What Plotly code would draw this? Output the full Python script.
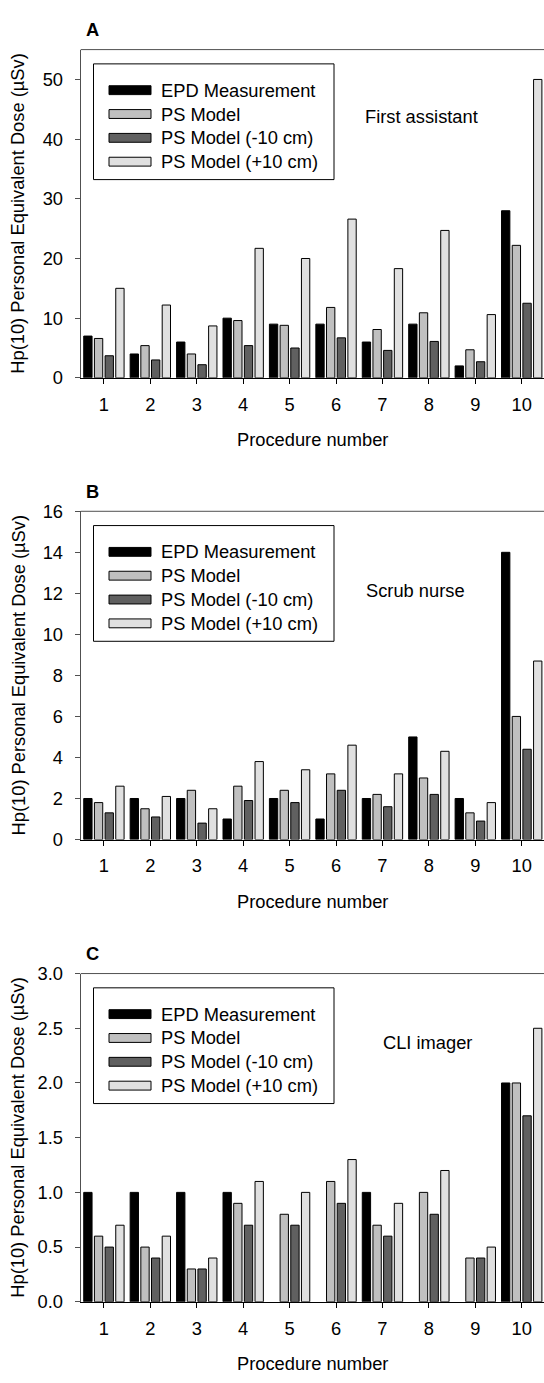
import plotly.graph_objects as go

# ---------------- data ----------------
procedures = [1, 2, 3, 4, 5, 6, 7, 8, 9, 10]
tick_labels = ["1", "2", "3", "4", "5", "6", "7", "8", "9", "10"]
series_names = ["EPD Measurement", "PS Model", "PS Model (-10 cm)", "PS Model (+10 cm)"]

A_epd = [7, 4, 6, 10, 9, 9, 6, 9, 2, 28]
A_ps = [6.6, 5.4, 4.0, 9.6, 8.8, 11.8, 8.1, 10.9, 4.7, 22.2]
A_minus = [3.7, 3.0, 2.2, 5.4, 5.0, 6.7, 4.6, 6.1, 2.7, 12.5]
A_plus = [15.0, 12.2, 8.7, 21.7, 20.0, 26.6, 18.3, 24.7, 10.6, 50.0]

B_epd = [2, 2, 2, 1, 2, 1, 2, 5, 2, 14]
B_ps = [1.8, 1.5, 2.4, 2.6, 2.4, 3.2, 2.2, 3.0, 1.3, 6.0]
B_minus = [1.3, 1.1, 0.8, 1.9, 1.8, 2.4, 1.6, 2.2, 0.9, 4.4]
B_plus = [2.6, 2.1, 1.5, 3.8, 3.4, 4.6, 3.2, 4.3, 1.8, 8.7]

C_epd = [1, 1, 1, 1, None, None, 1, None, None, 2]
C_ps = [0.6, 0.5, 0.3, 0.9, 0.8, 1.1, 0.7, 1.0, 0.4, 2.0]
C_minus = [0.5, 0.4, 0.3, 0.7, 0.7, 0.9, 0.6, 0.8, 0.4, 1.7]
C_plus = [0.7, 0.6, 0.4, 1.1, 1.0, 1.3, 0.9, 1.2, 0.5, 2.5]

panel_letters = ["A", "B", "C"]
panel_titles = ["First assistant", "Scrub nurse", "CLI imager"]
y_ranges = [[0, 55], [0, 16], [0, 3.0]]
y_dticks = [10, 2, 0.5]
y_formats = ["d", "d", ".1f"]
y_title = "Hp(10) Personal Equivalent Dose (µSv)"
x_title = "Procedure number"

# ---------------- styles ----------------
W, H = 544, 1383
FONT = "Arial, 'Liberation Sans', sans-serif"
FS = 18.3
colors = ["#000000", "#c0c0c0", "#606060", "#e0e0e0"]
frame_col = "#505050"


def px(x):
    return x / W


def py(y):
    return 1 - y / H


left_px = 80.7
bottoms = [372.5, 841.3, 1310.7]
plot_h = 333.3
tops = [b - plot_h for b in bottoms]

panels = [
    [A_epd, A_ps, A_minus, A_plus],
    [B_epd, B_ps, B_minus, B_plus],
    [C_epd, C_ps, C_minus, C_plus],
]

fig = go.Figure()
layout = dict(
    width=W, height=H,
    margin=dict(l=0, r=0, t=0, b=0),
    paper_bgcolor="white", plot_bgcolor="white",
    font=dict(family=FONT, size=FS, color="black"),
    showlegend=False,
    barmode="group", bargap=0.08, bargroupgap=0.22,
)

shapes = []
annotations = []

for i, data in enumerate(panels):
    sfx = "" if i == 0 else str(i + 1)
    for j, vals in enumerate(data):
        fig.add_trace(go.Bar(
            x=procedures, y=vals, name=series_names[j],
            marker=dict(color=colors[j], line=dict(color="black", width=1)),
            xaxis="x" + sfx, yaxis="y" + sfx,
            offsetgroup=str(j), showlegend=False,
        ))
    layout["xaxis" + sfx] = dict(
        domain=[px(left_px), 1], anchor="y" + sfx,
        range=[0.5, 10.48], tickmode="array", tickvals=procedures, ticktext=tick_labels,
        showline=True, linecolor="black", linewidth=1, mirror=False,
        ticks="outside", ticklen=5, tickcolor="black", ticklabelstandoff=5,
        showgrid=False, zeroline=False, fixedrange=True,
        tickfont=dict(size=FS),
    )
    layout["yaxis" + sfx] = dict(
        domain=[py(bottoms[i]), py(tops[i])], anchor="x" + sfx,
        range=y_ranges[i], dtick=y_dticks[i], tick0=0, tickformat=y_formats[i],
        showline=True, linecolor=frame_col, linewidth=1, mirror=False,
        ticks="outside", ticklen=5, tickcolor=frame_col, ticklabelstandoff=8,
        showgrid=False, zeroline=False, fixedrange=True,
        tickfont=dict(size=FS),
    )
    # top frame line
    shapes.append(dict(type="line", xref="paper", yref="paper",
                       x0=px(left_px), x1=1, y0=py(tops[i]), y1=py(tops[i]),
                       line=dict(color=frame_col, width=1)))
    # panel letter
    annotations.append(dict(text="<b>" + panel_letters[i] + "</b>", xref="paper", yref="paper",
                            x=px(83.5), y=py(tops[i] - 20.5), xanchor="left", yanchor="middle",
                            showarrow=False, font=dict(size=FS)))
    # y title
    annotations.append(dict(text=y_title, xref="paper", yref="paper", textangle=-90,
                            x=px(18), y=py((tops[i] + bottoms[i]) / 2), xanchor="center",
                            yanchor="middle", showarrow=False, font=dict(size=FS)))
    # x title
    annotations.append(dict(text=x_title, xref="paper", yref="paper",
                            x=px(312.5), y=py(bottoms[i] + 63), xanchor="center",
                            yanchor="middle", showarrow=False, font=dict(size=FS)))
    # role label
    title_y = [107, 588.6, 1047.6][i]
    title_x = [421, 415, 427][i]
    annotations.append(dict(text=panel_titles[i], xref="paper", yref="paper",
                            x=px(title_x), y=py(title_y), xanchor="center", yanchor="middle",
                            showarrow=False, font=dict(size=FS)))
    # legend (box, swatches, labels)
    t = tops[i]
    box_l, box_r = 93.5, 334
    shapes.append(dict(type="rect", xref="paper", yref="paper",
                       x0=px(box_l), x1=px(box_r), y0=py(t + 14.5), y1=py(t + 132),
                       line=dict(color="black", width=1), fillcolor="white", layer="above"))
    for j in range(4):
        cy = t + 41.2 + j * 24.2
        shapes.append(dict(type="rect", xref="paper", yref="paper",
                           x0=px(109), x1=px(151), y0=py(cy + 4.5), y1=py(cy - 4.5),
                           line=dict(color="black", width=1), fillcolor=colors[j], layer="above"))
        annotations.append(dict(text=series_names[j], xref="paper", yref="paper",
                                x=px(159), y=py(cy), xanchor="left", yanchor="middle",
                                showarrow=False, font=dict(size=FS)))

layout["shapes"] = shapes
layout["annotations"] = annotations
fig.update_layout(**layout)
fig.write_html("out.html")
